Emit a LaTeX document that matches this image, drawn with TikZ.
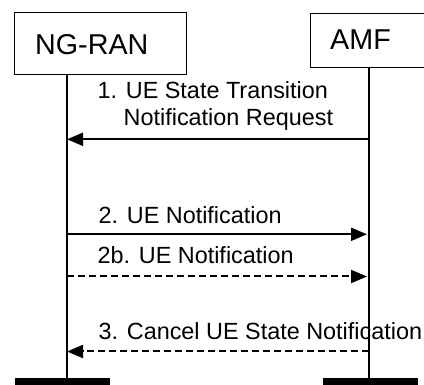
\documentclass[tikz,border=0pt]{standalone}
\usepackage{fontspec}
\setmainfont{Liberation Sans}
\usetikzlibrary{arrows.meta}
\begin{document}
\begin{tikzpicture}[x=1pt,y=-1pt,
  box/.style={draw, line width=1pt, rectangle, inner sep=0pt, anchor=north west},
  lbl/.style={inner sep=0pt, anchor=base west, font=\fontsize{28.7}{34}\selectfont},
  txt/.style={inner sep=0pt, anchor=base west, font=\fontsize{23.4}{28}\selectfont},
  life/.style={line width=1.5pt},
  msg/.style={line width=2pt, -{Triangle[length=16pt,width=13pt]}},
  dmsg/.style={msg, dash pattern=on 7pt off 4pt},
  bar/.style={fill=black, inner sep=0pt, anchor=north west, minimum width=95pt, minimum height=12pt}]
\useasboundingbox (0,0) rectangle (424,385);
\clip (0,0) rectangle (424,385);
% boxes
\node[box, minimum width=172pt, minimum height=62pt] (ngran) at (14,12) {};
\node[box, minimum width=130pt, minimum height=54pt] (amf) at (310,13) {};
\node[lbl] (ngranl) at (35,55) {NG-RAN};
\node[lbl] (amfl) at (330,50) {AMF};
% bars
\node[bar] (nbar) at (15,378) {};
\node[bar] (abar) at (323,378) {};
% lifelines
\coordinate (nt) at (67,74);
\coordinate (at) at (369,67);
\draw[life] (nt) -- (nt |- nbar.north);
\draw[life] (at) -- (at |- abar.north);
% message coordinates
\coordinate (a1) at (369,139.3);
\coordinate (n1) at (67,139.3);
\coordinate (n2) at (67,234.3);
\coordinate (a2) at (367,234.3);
\coordinate (n2b) at (67,276.5);
\coordinate (a2b) at (367,276.5);
\coordinate (a3) at (369,351.5);
\coordinate (n3) at (67,351.5);
% messages
\draw[msg] (a1) -- (n1);
\node[txt] (m1a) at (97.5,98.3) {1. UE State Transition};
\node[txt] (m1b) at (123.5,126) {Notification Request};
\draw[msg] (n2) -- (a2);
\node[txt] (m2) at (98.5,223.3) {2. UE Notification};
\draw[dmsg] (n2b) -- (a2b);
\node[txt] (m2b) at (97.5,263.3) {2b. UE Notification};
\draw[dmsg] (a3) -- (n3);
\node[txt] (m3) at (98.5,339.3) {3. Cancel UE State Notification};
\end{tikzpicture}
\end{document}
